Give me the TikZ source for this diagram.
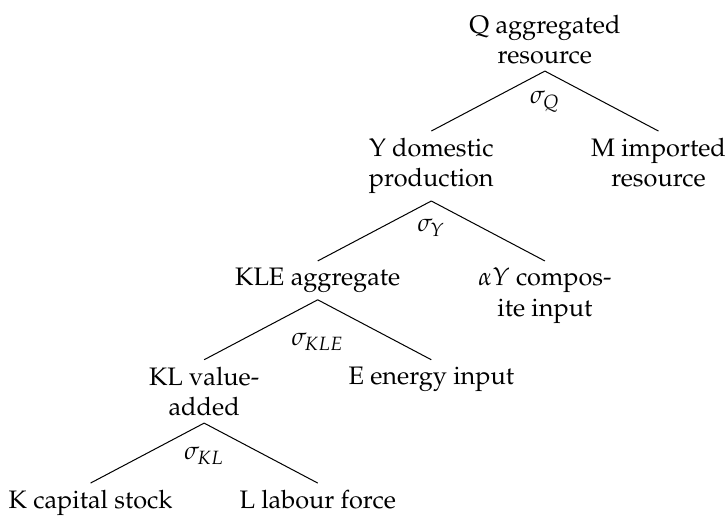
\documentclass[tikz,border=0pt]{standalone}
\usepackage[T1]{fontenc}
\usepackage{mathpazo}
\usetikzlibrary{positioning}

\begin{document}
\begin{tikzpicture}[
    % styles of the nesting tree
    level/.style={align=center, inner sep=2.6pt},
    elast/.style={inner sep=0pt},
    branch/.style={draw, line width=0.4pt}
]
    \useasboundingbox (0,0) rectangle (286.6pt,-204.3pt);

    % --- 1. Nodes ---

    % top: aggregated resource
    \node[level, anchor=south] (q) at (215.4pt,-28.1pt) {Q aggregated\\resource};
    \node[level, below=23.7pt of q, xshift=-44.9pt] (y) {Y domestic\\production};
    \node[level, below=23.7pt of q, xshift=44.9pt] (m) {M imported\\resource};

    % domestic production
    \node[level, below=23.7pt of y, xshift=-44.9pt] (kle) {KLE aggregate};
    \node[level, below=23.7pt of y, xshift=44.9pt] (ay) {$\alpha Y$ compos-\\ite input};

    % KLE aggregate
    \node[level, below=23.7pt of kle, xshift=-44.9pt] (kl) {KL value-\\added};
    \node[level, below=23.7pt of kle, xshift=44.9pt] (e) {E energy input};

    % value-added
    \node[level, below=23.7pt of kl, xshift=-44.9pt] (k) {K capital stock};
    \node[level, below=23.7pt of kl, xshift=44.9pt] (l) {L labour force};

    % elasticities of substitution
    \node[elast, below=7.7pt of q] (sq) {$\sigma_Q$};
    \node[elast, below=6.9pt of y] (sy) {$\sigma_Y$};
    \node[elast, below=12.9pt of kle] (skle) {$\sigma_{KLE}$};
    \node[elast, below=9.3pt of kl] (skl) {$\sigma_{KL}$};

    % --- 2. Branches ---
    \draw[branch] (q.south) -- (y.north);
    \draw[branch] (q.south) -- (m.north);
    \draw[branch] (y.south) -- (kle.north);
    \draw[branch] (y.south) -- (ay.north);
    \draw[branch] (kle.south) -- (kl.north);
    \draw[branch] (kle.south) -- (e.north);
    \draw[branch] (kl.south) -- (k.north);
    \draw[branch] (kl.south) -- (l.north);

\end{tikzpicture}
\end{document}
